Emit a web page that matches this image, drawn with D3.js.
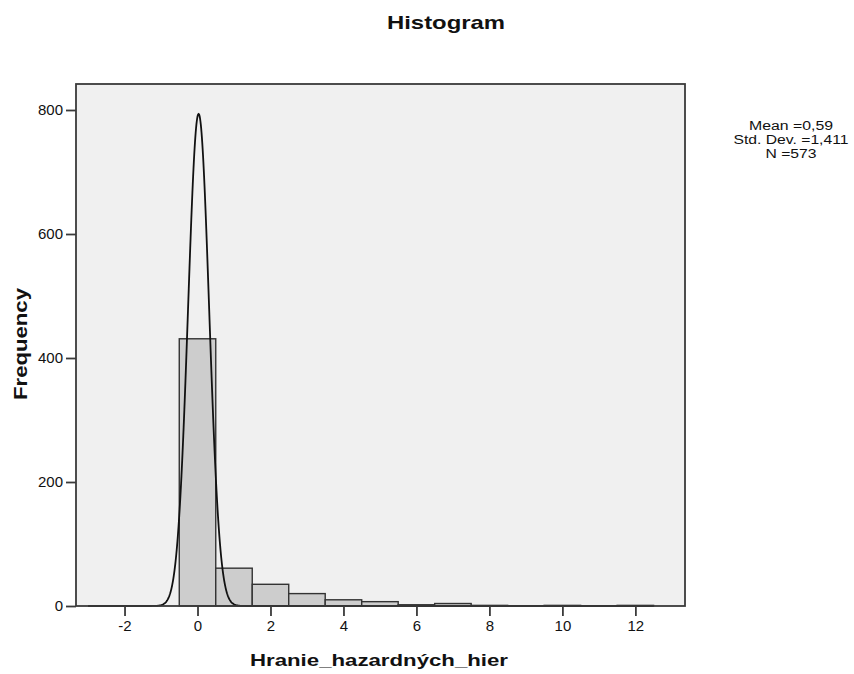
<!DOCTYPE html>
<html>
<head>
<meta charset="utf-8">
<script src="https://cdn.jsdelivr.net/npm/d3@7"></script>
<style>
  html, body { margin: 0; padding: 0; background: #fff; }
  svg { display: block; font-family: "Liberation Sans", Arial, sans-serif; }
</style>
</head>
<body>
<svg id="chart" width="854" height="674"></svg>
<script>
// Histogram bins (width 1, centred on integer scores) and their frequencies
const binCenters = [0, 1, 2, 3, 4, 5, 6, 7, 8, 9, 10, 11, 12];
const frequencies = [431, 61, 35, 20, 10, 7, 2, 4, 1, 0, 1, 0, 1];
const binWidth = 1;

// Axis ticks
const xTicks = [-2, 0, 2, 4, 6, 8, 10, 12];
const yTicks = [0, 200, 400, 600, 800];

// Summary statistics box
const statLines = ["Mean =0,59", "Std. Dev. =1,411", "N =573"];
const statWidths = [84, 115, 51];

// Fitted normal curve overlay
const curveMean = 0.03;
const curveSD = 0.288;
const curveN = 573;

const svg = d3.select("#chart");
const plot = { left: 76, right: 685, top: 84, bottom: 606 };

const x = d3.scaleLinear().domain([-3.33, 13.36]).range([plot.left, plot.right]);
const y = d3.scaleLinear().domain([0, 800]).range([plot.bottom, 110]);

// Plot background
svg.append("rect")
  .attr("x", plot.left).attr("y", plot.top)
  .attr("width", plot.right - plot.left).attr("height", plot.bottom - plot.top)
  .attr("fill", "#f0f0f0");

// Bars
svg.append("g").selectAll("rect")
  .data(binCenters.map((c, i) => ({ c, f: frequencies[i] })).filter(d => d.f > 0))
  .join("rect")
  .attr("x", d => x(d.c - binWidth / 2))
  .attr("y", d => y(d.f))
  .attr("width", d => x(d.c + binWidth / 2) - x(d.c - binWidth / 2))
  .attr("height", d => y(0) - y(d.f))
  .attr("fill", "#cdcdcd")
  .attr("stroke", "#333")
  .attr("stroke-width", 1.4);

// Normal curve
const norm = v => curveN * binWidth / (curveSD * Math.sqrt(2 * Math.PI)) *
  Math.exp(-0.5 * Math.pow((v - curveMean) / curveSD, 2));
const curveX = d3.range(-3, 12.5 + 1e-9, 0.01);
svg.append("path")
  .datum(curveX)
  .attr("fill", "none")
  .attr("stroke", "#111")
  .attr("stroke-width", 1.8)
  .attr("d", d3.line().x(v => x(v)).y(v => y(norm(v))));

// Frame
svg.append("rect")
  .attr("x", plot.left).attr("y", plot.top)
  .attr("width", plot.right - plot.left).attr("height", plot.bottom - plot.top)
  .attr("fill", "none")
  .attr("stroke", "#3a3a3a")
  .attr("stroke-width", 1.8);

// Tick labels use a plain hyphen for negatives
const fmt = v => String(v);

// X axis
const xAxis = svg.append("g")
  .attr("transform", `translate(0,${plot.bottom})`)
  .call(d3.axisBottom(x).tickValues(xTicks).tickSize(10).tickPadding(4).tickFormat(fmt));
xAxis.select(".domain").remove();
xAxis.selectAll("line").attr("stroke", "#3a3a3a").attr("stroke-width", 1.8);
xAxis.selectAll("text").attr("font-size", 15).attr("fill", "#111")
  .attr("font-family", "Liberation Sans, Arial, sans-serif");

// Y axis
const yAxis = svg.append("g")
  .attr("transform", `translate(${plot.left},0)`)
  .call(d3.axisLeft(y).tickValues(yTicks).tickSize(10).tickPadding(3).tickFormat(fmt));
yAxis.select(".domain").remove();
yAxis.selectAll("line").attr("stroke", "#3a3a3a").attr("stroke-width", 1.8);
yAxis.selectAll("text").attr("font-size", 15).attr("fill", "#111")
  .attr("font-family", "Liberation Sans, Arial, sans-serif");

// Title
svg.append("text")
  .attr("x", 446).attr("y", 29)
  .attr("text-anchor", "middle")
  .attr("font-size", 18.5).attr("font-weight", "bold").attr("fill", "#111")
  .attr("textLength", 118).attr("lengthAdjust", "spacingAndGlyphs")
  .text("Histogram");

// X axis title
svg.append("text")
  .attr("x", 379).attr("y", 666)
  .attr("text-anchor", "middle")
  .attr("font-size", 17).attr("font-weight", "bold").attr("fill", "#111")
  .attr("textLength", 258).attr("lengthAdjust", "spacingAndGlyphs")
  .text("Hranie_hazardných_hier");

// Y axis title
svg.append("text")
  .attr("transform", "translate(27,344) rotate(-90)")
  .attr("text-anchor", "middle")
  .attr("font-size", 18).attr("font-weight", "bold").attr("fill", "#111")
  .attr("textLength", 112).attr("lengthAdjust", "spacingAndGlyphs")
  .text("Frequency");

// Statistics box
svg.append("g").selectAll("text")
  .data(statLines)
  .join("text")
  .attr("x", 791)
  .attr("y", (d, i) => 130 + i * 14)
  .attr("text-anchor", "middle")
  .attr("font-size", 12.5).attr("fill", "#111")
  .attr("textLength", (d, i) => statWidths[i]).attr("lengthAdjust", "spacingAndGlyphs")
  .text(d => d);
</script>
</body>
</html>
